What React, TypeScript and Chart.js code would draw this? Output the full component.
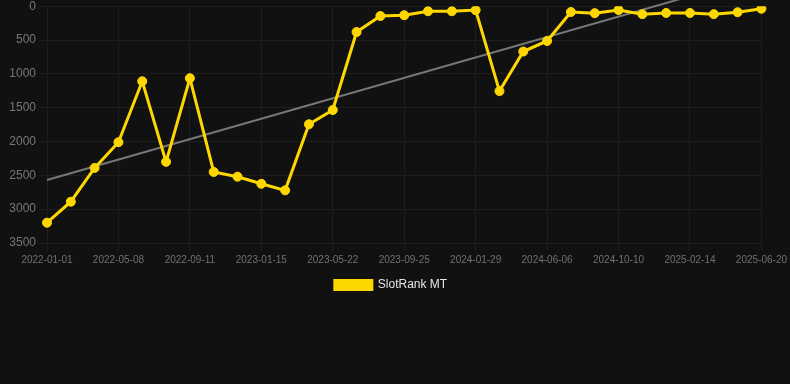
import React, { useEffect, useRef } from "react";
import { Chart, registerables } from "chart.js";

Chart.register(...registerables);

const dateLabels: string[] = [
  "2022-01-01", "2022-02-12", "2022-03-26", "2022-05-08", "2022-06-19", "2022-07-31",
  "2022-09-11", "2022-10-23", "2022-12-04", "2023-01-15", "2023-02-26", "2023-04-09",
  "2023-05-22", "2023-07-03", "2023-08-14", "2023-09-25", "2023-11-06", "2023-12-18",
  "2024-01-29", "2024-03-11", "2024-04-23", "2024-06-06", "2024-07-18", "2024-08-29",
  "2024-10-10", "2024-11-21", "2025-01-02", "2025-02-14", "2025-03-28", "2025-05-09",
  "2025-06-20",
];

const rankValues: number[] = [
  3200, 2890, 2390, 2010, 1110, 2300, 1065, 2450, 2520, 2625, 2722, 1745,
  1535, 382, 145, 133, 74, 74, 58, 1255, 670, 514, 86, 103, 56, 118,
  100, 100, 118, 89, 38,
];

const trendStart = 2570;
const trendEnd = -450;

const yTicks = { min: 0, max: 3500, step: 500 };

const legendShift = {
  id: "legendShift",
  afterLayout(chart: any) {
    const lg = chart.legend;
    if (lg) {
      lg.left -= 4;
      lg.right -= 4;
    }
  },
};

export default function App() {
  const canvasRef = useRef<HTMLCanvasElement | null>(null);

  useEffect(() => {
    document.body.style.margin = "0";
    document.body.style.background = "#111111";
    const ctx = canvasRef.current!;
    const chart = new Chart(ctx, {
      type: "line",
      data: {
        labels: dateLabels,
        datasets: [
          {
            label: "SlotRank MT",
            data: rankValues,
            borderColor: "#FFD700",
            backgroundColor: "#FFD700",
            borderWidth: 3,
            pointRadius: 4.5,
            pointHoverRadius: 5,
            pointBorderWidth: 1,
            pointBackgroundColor: "#FFD700",
            pointBorderColor: "#FFD700",
            tension: 0,
            order: 1,
          },
          {
            label: "trend",
            data: [
              { x: dateLabels[0], y: trendStart },
              { x: dateLabels[dateLabels.length - 1], y: trendEnd },
            ] as any,
            borderColor: "#777777",
            backgroundColor: "#777777",
            borderWidth: 2,
            pointRadius: 0,
            clip: false as any,
            order: 2,
          },
        ],
      },
      options: {
        animation: false,
        responsive: false,
        maintainAspectRatio: false,
        layout: { padding: { left: 0, right: 0, top: 0, bottom: 0 } },
        plugins: {
          legend: {
            position: "bottom",
            labels: {
              color: "#e6e6e6",
              boxWidth: 37,
              boxHeight: 9,
              font: { size: 12, family: "'Liberation Sans', Arial, sans-serif" },
              filter: (item) => item.text !== "trend",
            },
          },
          tooltip: { enabled: false },
        },
        scales: {
          x: {
            type: "category",
            offset: false,
            grid: { color: "#1e1e1e", tickLength: 8 },
            border: { color: "#1e1e1e" },
            ticks: {
              color: "#707070",
              autoSkip: false,
              maxRotation: 0,
              font: { size: 10, family: "'Liberation Sans', Arial, sans-serif" },
              callback: function (value: any, index: number) {
                return index % 3 === 0 ? dateLabels[index] : null;
              },
            },
          },
          y: {
            reverse: true,
            min: yTicks.min,
            max: yTicks.max,
            grid: { color: "#1e1e1e", tickLength: 8 },
            border: { color: "#1e1e1e" },
            afterFit: (scale: any) => {
              scale.width = 47;
            },
            ticks: {
              stepSize: yTicks.step,
              color: "#777777",
              font: { size: 12, family: "'Liberation Sans', Arial, sans-serif" },
              callback: (v: any) => String(v),
            },
          },
        },
      },
      plugins: [legendShift],
    });
    return () => chart.destroy();
  }, []);

  return (
    <div style={{ width: 790, height: 384, background: "#111111", overflow: "hidden", position: "relative" }}>
      <canvas
        ref={canvasRef}
        width={790}
        height={305}
        style={{ display: "block", position: "absolute", left: 0, top: -4 }}
      />
    </div>
  );
}
